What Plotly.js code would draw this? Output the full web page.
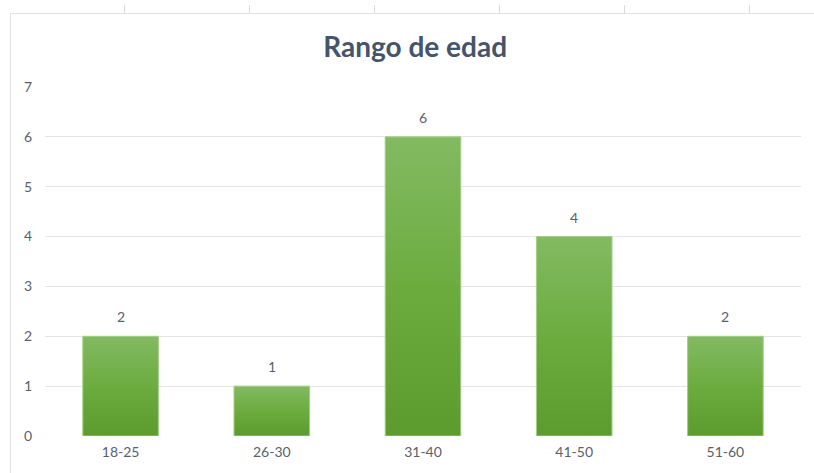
<!DOCTYPE html>
<html>
<head>
<meta charset="utf-8">
<script src="https://cdn.plot.ly/plotly-3.0.1.min.js"></script>
<style>
  html, body { margin: 0; padding: 0; background: #ffffff; }
  #wrap { position: relative; width: 814px; height: 473px; overflow: hidden; }
  #frame { position: absolute; left: 10px; top: 13px; width: 820px; height: 480px;
           border-left: 1px solid #dfe3e8; border-top: 1px solid #dfe3e8; }
  .cell { position: absolute; top: 5px; width: 1px; height: 8px; background: #d6d9de; }
  #chart { position: absolute; left: 0; top: 0; width: 814px; height: 473px; }
</style>
</head>
<body>
<div id="wrap">
  <div id="frame"></div>
  <div class="cell" style="left:124px"></div>
  <div class="cell" style="left:249px"></div>
  <div class="cell" style="left:374px"></div>
  <div class="cell" style="left:499px"></div>
  <div class="cell" style="left:624px"></div>
  <div class="cell" style="left:749px"></div>
  <div id="chart"></div>
</div>
<script>
// Age ranges and the number of people in each
const ageRanges = ['18-25', '26-30', '31-40', '41-50', '51-60'];
const counts = [2, 1, 6, 4, 2];
const yTicks = [0, 1, 2, 3, 4, 5, 6, 7];

const fontFamily = 'Lato, "Open Sans", sans-serif';
const labelColor = '#595f6b';

const trace = {
  type: 'bar',
  x: ageRanges,
  y: counts,
  marker: { color: '#70ad47', line: { color: '#a3cf87', width: 1 } },
  hoverinfo: 'skip'
};

// value labels sitting just above each bar
const valueLabels = ageRanges.map((r, i) => ({
  x: r, y: counts[i], text: String(counts[i]),
  showarrow: false, yanchor: 'bottom', yshift: 9,
  font: { family: fontFamily, size: 14, color: labelColor }
}));

const layout = {
  width: 814, height: 473,
  margin: { l: 45, r: 13, t: 87, b: 37 },
  paper_bgcolor: 'rgba(0,0,0,0)',
  plot_bgcolor: 'rgba(0,0,0,0)',
  bargap: 0.5,
  showlegend: false,
  title: {
    text: '<b>Rango de edad</b>',
    x: 0.51, xanchor: 'center', xref: 'container',
    y: 0.9, yanchor: 'middle', yref: 'container',
    font: { family: fontFamily, size: 28, color: '#44546a' }
  },
  xaxis: {
    type: 'category',
    showgrid: false, zeroline: false, showline: false,
    ticks: '', ticklabelstandoff: 6,
    tickfont: { family: fontFamily, size: 14, color: labelColor }
  },
  yaxis: {
    range: [0, 7],
    tickvals: yTicks,
    ticktext: yTicks.map(String),
    showgrid: true, gridcolor: '#e1e4e9', gridwidth: 1,
    zeroline: false, showline: false, ticks: '',
    ticklabelstandoff: 12,
    tickfont: { family: fontFamily, size: 14, color: labelColor }
  },
  annotations: valueLabels
};

Plotly.newPlot('chart', [trace], layout, { displayModeBar: false, staticPlot: true }).then(gd => {
  // vertical green gradient on the bars
  const svg = gd.querySelector('.main-svg');
  const ns = 'http://www.w3.org/2000/svg';
  let defs = svg.querySelector('defs');
  if (!defs) { defs = document.createElementNS(ns, 'defs'); svg.insertBefore(defs, svg.firstChild); }
  const grad = document.createElementNS(ns, 'linearGradient');
  grad.setAttribute('id', 'barGreen');
  grad.setAttribute('x1', '0'); grad.setAttribute('y1', '0');
  grad.setAttribute('x2', '0'); grad.setAttribute('y2', '1');
  [['0%', '#83ba62'], ['50%', '#6cac3f'], ['100%', '#5c9c2e']].forEach(([o, c]) => {
    const s = document.createElementNS(ns, 'stop');
    s.setAttribute('offset', o); s.setAttribute('stop-color', c);
    grad.appendChild(s);
  });
  defs.appendChild(grad);
  gd.querySelectorAll('.bars .point path').forEach(p => { p.style.fill = 'url(#barGreen)'; });
});
</script>
</body>
</html>
